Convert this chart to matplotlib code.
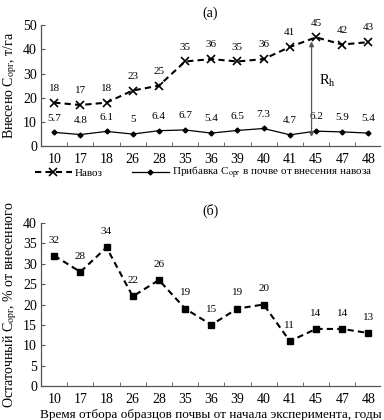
import matplotlib
matplotlib.use("Agg")
import matplotlib.pyplot as plt
import numpy as np

years = ["10", "17", "18", "26", "28", "35", "36", "39", "40", "41", "45", "47", "48"]
manure = [18, 17, 18, 23, 25, 35, 36, 35, 36, 41, 45, 42, 43]
gain = [5.7, 4.8, 6.1, 5, 6.4, 6.7, 5.4, 6.5, 7.3, 4.7, 6.2, 5.9, 5.4]
gain_labels = ["5.7", "4.8", "6.1", "5", "6.4", "6.7", "5.4", "6.5", "7.3", "4.7", "6.2", "5.9", "5.4"]
residual = [32, 28, 34, 22, 26, 19, 15, 19, 20, 11, 14, 14, 13]

plt.rcParams['font.family'] = ['Liberation Serif', 'DejaVu Serif']
plt.rcParams['mathtext.fontset'] = 'stix'

fig = plt.figure(figsize=(3.84, 4.2), dpi=100)
x = np.arange(len(years))
axc = "#555555"

def style(ax, ymax, ystep):
    ax.spines['top'].set_visible(False)
    ax.spines['right'].set_visible(False)
    for s in ('left', 'bottom'):
        ax.spines[s].set_color(axc)
        ax.spines[s].set_linewidth(0.9)
    ax.set_xlim(-0.5, 12.45)
    ax.set_ylim(0, ymax)
    ax.set_yticks(np.arange(0, ymax + 0.1, ystep))
    ax.set_xticks(x)
    ax.set_xticklabels(years)
    ax.set_xticks(np.arange(0.5, 12.5, 1), minor=True)
    ax.tick_params(axis='x', which='major', length=0, labelsize=10, pad=5)
    ax.tick_params(axis='x', which='minor', direction='in', length=3, color=axc)
    ax.tick_params(axis='y', direction='in', length=3, color=axc, labelsize=10, pad=3)

# top panel
ax1 = fig.add_axes([0.107, 0.652, 0.883, 0.288])
style(ax1, 50, 10)
ax1.plot(x, manure, ls='--', color='black', lw=1.5, marker='x', ms=5.5, mew=1.2,
         dashes=(3, 2), label='Навоз')
ax1.plot(x, gain, ls='-', color='black', lw=0.9, marker='D', ms=2.5,
         label='Прибавка C$_{\\mathrm{орг}}$ в почве от внесения навоза')
for xi, v in zip(x, manure):
    ax1.annotate(str(v), (xi, v), xytext=(0, 7), textcoords='offset points',
                 ha='center', va='bottom', fontsize=8)
for xi, v, t in zip(x, gain, gain_labels):
    ax1.annotate(t, (xi, v), xytext=(0, 7), textcoords='offset points',
                 ha='center', va='bottom', fontsize=8)
ax1.annotate('', xy=(9.83, 3.8), xytext=(9.83, 43.3),
             arrowprops=dict(arrowstyle='<|-|>', color='#555555', lw=0.9,
                             mutation_scale=7, shrinkA=0, shrinkB=0))
ax1.text(10.1, 27, 'R$_{\\mathrm{h}}$', fontsize=10.5, ha='left', va='center')
ax1.set_ylabel('Внесено C$_{\\mathrm{орг}}$, т/га', fontsize=10, labelpad=3)
ax1.set_title('(а)', fontsize=10, pad=6)
ax1.legend(loc='upper left', bbox_to_anchor=(35 / 384, 0.607),
           bbox_transform=fig.transFigure, ncol=2, frameon=False,
           fontsize=8, handlelength=3.3, columnspacing=2.6, handletextpad=0.3,
           borderaxespad=0, borderpad=0)

# bottom panel
ax2 = fig.add_axes([0.107, 0.081, 0.883, 0.388])
style(ax2, 40, 5)
ax2.plot(x, residual, ls='--', color='black', lw=1.5, marker='s', ms=4,
         dashes=(3, 2))
for xi, v in zip(x, residual):
    ax2.annotate(str(v), (xi, v), xytext=(0, 8), textcoords='offset points',
                 ha='center', va='bottom', fontsize=8)
ax2.set_ylabel('Остаточный C$_{\\mathrm{орг}}$, % от внесенного', fontsize=10, labelpad=3)
ax2.set_xlabel('Время отбора образцов почвы от начала эксперимента, годы',
               fontsize=9.5, labelpad=2)
ax2.set_title('(б)', fontsize=10, pad=6)

fig.savefig('out.png', dpi=100)
